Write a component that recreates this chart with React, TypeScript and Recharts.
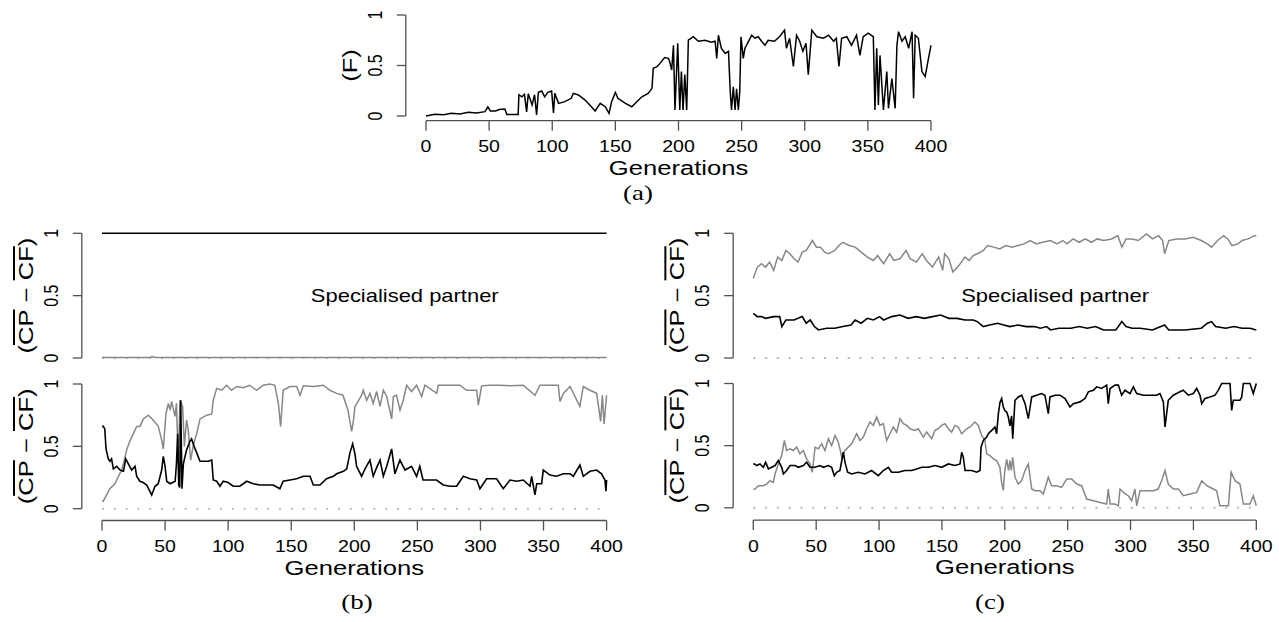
import React from 'react';
import { LineChart, Line, XAxis, YAxis, ReferenceLine, ReferenceDot } from 'recharts';

const W = 1279;
const H = 622;
const SANS = '"Liberation Sans", Arial, Helvetica, sans-serif';
const SERIF = '"Liberation Serif", "DejaVu Serif", serif';
const TICK_STRETCH = 1.22;
const LABEL_STRETCH = 1.28;
const AXIS_COLOR = '#505050';
const BLACK = '#000000';
const GRAY = '#878787';
const DOT_GRAY = '#b8b8b8';

const genTicks = [0, 50, 100, 150, 200, 250, 300, 350, 400];
const propTicks = [0, 0.5, 1];
const zeroGen = [0, 400];
const zeroVal = [0, 0];

// (a) F
const aGen = [0,7,14,20,27,33.5,40,46.7,49,51,55,58,62.5,64,73,73.6,76,78,79.7,81,84,86,87.6,89,91.7,94,96.5,99.5,101,102,105,110,115,116.7,120.7,126,131,134,138,142,145,147,150,152,158,163,167,171,176,179,180,183,185.3,189,192,193,194.6,196,197.2,199.4,201,202.3,203.6,205,206.5,207.8,211.7,215.7,221,226,229,230.3,231.6,234,237,239.6,241,242,243.4,244.8,246,247.4,248.5,249.5,251.3,252.6,258,260.6,263.2,265.8,268.5,271,276,280,284,285.5,288,291,293.5,296,298.5,301,302.8,305.6,309.6,314.9,318.9,322.9,325,327.1,329.2,333.3,337,341,343.7,346.3,350.3,354.3,355.6,357,358.3,359.6,362.3,365,366.3,369,371.6,373,374.3,377,379.6,382.3,385,386.2,387.5,390,392.8,395.4,398,400];
const aF = [0,0.017,0.012,0.026,0.02,0.036,0.03,0.043,0.09,0.05,0.05,0.065,0.07,0.016,0.016,0.21,0.19,0.215,0.04,0.22,0.11,0.21,0.01,0.234,0.248,0.19,0.234,0.248,0.03,0.224,0.125,0.142,0.175,0.224,0.208,0.158,0.092,0.05,0.125,0.092,0.026,0.142,0.234,0.175,0.125,0.092,0.142,0.19,0.224,0.274,0.472,0.488,0.521,0.578,0.571,0.54,0.455,0.70,0.06,0.72,0.06,0.44,0.06,0.41,0.06,0.75,0.785,0.74,0.75,0.73,0.74,0.57,0.80,0.67,0.62,0.64,0.24,0.06,0.29,0.06,0.27,0.06,0.24,0.785,0.57,0.67,0.80,0.77,0.785,0.74,0.70,0.75,0.74,0.785,0.85,0.67,0.77,0.49,0.80,0.74,0.64,0.72,0.41,0.85,0.785,0.77,0.80,0.74,0.77,0.49,0.77,0.785,0.70,0.80,0.60,0.785,0.82,0.785,0.06,0.67,0.11,0.60,0.06,0.44,0.076,0.37,0.076,0.70,0.835,0.74,0.785,0.67,0.835,0.175,0.80,0.77,0.44,0.39,0.57,0.70];

// (b) upper
const bUBlackGen = [0, 400];
const bUBlackVal = [1, 1];
const bUGrayGen = [0, 38, 40, 42, 400];
const bUGrayVal = [0.004, 0.004, 0.012, 0.004, 0.004];

// (b) lower
const bLBlackGen = [0,1,2.2,3.2,5,6.3,7.6,9,11.6,14.3,17,18.8,20.9,23.5,26.2,27.5,30,32.7,35.4,39.4,42,44.6,47.3,48.6,50,51.3,54,58,59,60,60.8,61.6,62.4,63.4,64.5,67,69.7,71,73,75,77.7,80.3,84.3,87,88.2,90.9,93.5,96.1,100,104,109.3,114.7,120,125,130.5,135.8,141,143.6,149,154.3,159.6,164.9,167.5,172.8,178,183.4,186,191.4,194,196.6,198.7,200.5,201.8,205.8,208.5,212.4,215,217.7,220.4,223,225.7,229.6,232.2,236.2,240.2,245.4,249.4,251.9,254.5,259.9,265.2,270.5,275.8,281.1,286.4,291.7,297,299.6,304.9,312.8,318.1,323.4,328.7,334,339.3,340.6,343.2,344.6,348.5,349.8,355.1,360.4,365.7,371,373.6,378.9,381.5,386.8,392.1,396,398.7,399.5,400];
const bLBlackVal = [0.66,0.66,0.64,0.48,0.40,0.38,0.40,0.32,0.34,0.31,0.30,0.40,0.36,0.31,0.34,0.26,0.22,0.21,0.19,0.11,0.18,0.20,0.31,0.42,0.34,0.22,0.20,0.22,0.36,0.60,0.19,0.17,0.87,0.16,0.36,0.47,0.54,0.56,0.50,0.45,0.38,0.38,0.38,0.39,0.23,0.22,0.18,0.22,0.21,0.18,0.18,0.22,0.20,0.19,0.19,0.19,0.16,0.22,0.23,0.24,0.26,0.26,0.19,0.19,0.24,0.26,0.28,0.30,0.32,0.45,0.52,0.44,0.34,0.26,0.32,0.39,0.26,0.33,0.39,0.26,0.34,0.48,0.28,0.39,0.31,0.34,0.26,0.34,0.23,0.23,0.23,0.19,0.18,0.18,0.26,0.24,0.23,0.16,0.24,0.24,0.16,0.23,0.22,0.23,0.18,0.26,0.11,0.20,0.20,0.31,0.27,0.26,0.28,0.28,0.26,0.35,0.26,0.30,0.31,0.28,0.23,0.14,0.23];
const bLGrayGen = [0,1,3.7,6.3,10.3,13,15.6,17,19.5,22,24.8,27.5,30.1,32.8,36.7,40.7,44.6,47.3,48.6,50.7,52.6,54,55.2,57.9,59,60.5,61.8,63.9,65.3,67,68.3,70.3,72.4,75,77.7,83,87,88.2,90.9,94.9,98.8,102.7,106.7,112,117,122.5,127.9,133,137,139.8,141.6,143.6,149,154.3,157,159.6,167.5,175.4,180.7,186,191,195,197.9,199.5,200.5,203,205.8,207.1,209.8,212.4,215,217.7,220.4,223,225.7,229.6,231,233.5,236.2,238.8,241.5,245.4,249.4,253.4,256,265.3,266.6,275.8,283.7,289,297,298.3,300.9,307.5,315.5,323.4,334,343.2,347.2,355.1,361.7,363,365.7,371,378.8,381.5,386.8,392.1,395.3,396.6,398,400];
const bLGrayVal = [0.06,0.06,0.11,0.16,0.20,0.26,0.31,0.36,0.47,0.54,0.60,0.66,0.66,0.72,0.75,0.71,0.66,0.55,0.48,0.76,0.845,0.79,0.86,0.74,0.845,0.36,0.87,0.82,0.50,0.71,0.64,0.39,0.51,0.60,0.72,0.75,0.76,0.87,0.965,0.95,0.99,0.95,0.98,0.97,0.99,0.95,0.99,1.0,0.99,0.845,0.66,0.95,0.98,0.98,0.91,0.985,0.98,0.99,0.95,0.925,0.91,0.79,0.62,0.72,0.82,0.86,0.91,0.95,0.87,0.925,0.845,0.94,0.82,0.95,0.90,0.72,0.90,0.91,0.79,0.87,0.99,0.94,0.99,0.90,0.99,0.925,0.99,0.99,0.99,0.95,0.95,0.83,0.985,0.99,0.99,0.985,0.99,0.91,0.99,0.99,0.99,0.86,0.925,0.98,0.82,0.98,0.95,0.925,0.70,0.91,0.68,0.91];

// (c) upper
const cUGrayGen = [0,3.2,6.5,9.7,13,16.2,19.4,22.7,25.9,29.1,32.4,35.6,38.9,42.1,47,50.2,53.4,56.7,59.9,64.8,68,71.3,76.1,81,85.8,90.7,95.5,98.8,103.6,108.5,111.7,116.6,121.5,124.7,129.6,134.4,137.7,142.5,147.4,150.6,152.2,155.5,158.7,163.6,168.4,171.7,174.9,178.1,183,186.2,191.1,195.9,200.8,205.7,210.5,215.4,220.2,225.1,230,236.4,241.3,246.2,249.4,254.3,259.1,264,268.8,273.7,278.5,285,289.9,293.1,296.4,301.2,306.1,312.6,317.4,322.3,325.5,327.1,330.4,336.8,343.3,349.8,356.3,361.1,364.4,369.2,374.1,377.3,380.6,385.4,388.7,393.5,398.4,400];
const cUGrayVal = [0.637,0.729,0.756,0.729,0.769,0.703,0.809,0.782,0.862,0.836,0.796,0.769,0.849,0.862,0.942,0.889,0.889,0.849,0.836,0.862,0.902,0.928,0.902,0.889,0.849,0.809,0.782,0.822,0.756,0.836,0.782,0.796,0.862,0.796,0.769,0.836,0.782,0.729,0.809,0.703,0.836,0.796,0.690,0.743,0.809,0.782,0.822,0.836,0.862,0.902,0.889,0.875,0.902,0.889,0.902,0.915,0.942,0.915,0.928,0.942,0.915,0.942,0.915,0.955,0.928,0.955,0.928,0.955,0.942,0.955,0.981,0.889,0.955,0.955,0.942,0.995,0.955,0.981,0.942,0.836,0.942,0.955,0.955,0.968,0.942,0.915,0.889,0.942,0.981,0.955,0.902,0.915,0.942,0.955,0.981,0.981];
const cUBlackGen = [0,3.2,6.5,9.7,16.2,21,22.7,25.9,32.4,38.9,42.1,45.3,48.6,51.8,58.3,64.8,71.3,77.7,81,85.8,90.7,95.5,100.4,103.6,110.1,116.6,123.1,129.6,136,142.5,149,155.5,161.9,168.4,174.9,178.1,183,187.9,194.3,199.2,204,210.5,217,223.5,228.3,233.2,236.4,242.9,252.6,259.1,265.6,272.1,275.3,278.5,288.3,293.1,296.4,301.2,307.7,317.4,327.1,330.4,343.3,356.3,361.1,364.4,367.6,375.7,382.2,388.7,395.1,400];
const cUBlackVal = [0.358,0.332,0.332,0.318,0.332,0.332,0.252,0.305,0.305,0.332,0.279,0.305,0.252,0.225,0.239,0.239,0.252,0.265,0.305,0.279,0.318,0.305,0.332,0.305,0.332,0.345,0.318,0.332,0.318,0.332,0.345,0.318,0.318,0.305,0.305,0.292,0.252,0.265,0.279,0.265,0.252,0.265,0.252,0.252,0.239,0.252,0.225,0.239,0.239,0.252,0.239,0.252,0.239,0.225,0.225,0.292,0.252,0.239,0.239,0.225,0.265,0.225,0.225,0.239,0.279,0.292,0.252,0.239,0.252,0.239,0.239,0.225];

// (c) lower
const cLBlackGen = [0,0.8,2.7,5.3,8,9.8,12,14.6,17.3,19.9,22.6,23.9,26.5,29.2,33.2,35.8,39.8,42.4,45.1,49.1,53,55.7,59.7,62.3,64.4,66.3,68.9,71.6,72.9,75,78.2,83.5,88.8,94.1,99.4,103.4,107.4,110,115.3,120.6,125.9,129.9,133.9,139.2,144.5,149.8,155.1,160.4,164.4,165.7,167,168.4,173.7,177.6,180.3,181.1,182.9,185.6,186.9,189.6,192.2,193.5,194.9,196.2,197.5,198.8,200.2,201.5,202.8,204.1,205.4,206.3,208.1,210.8,213.4,216.1,218.7,221.4,225.3,229.3,231.9,234.6,235.9,239.9,243.9,247.9,251.8,254.5,259.8,263.8,266.4,270.4,273.1,277,281,282.3,283.7,287.6,290.3,292.9,295.6,299.6,302.2,304.9,310.2,315.5,320.8,323.4,326.1,327.4,328.7,330,334,339.3,341.9,345.9,349.9,352.6,355.2,356.6,359.2,363.2,367.2,369.8,372.5,379.1,380.4,381.7,387,388.4,389.7,395,397.6,400];
const cLBlackVal = [0.35,0.353,0.34,0.353,0.326,0.367,0.313,0.326,0.34,0.38,0.326,0.272,0.30,0.34,0.34,0.326,0.34,0.367,0.326,0.326,0.34,0.326,0.34,0.326,0.259,0.286,0.30,0.447,0.367,0.286,0.272,0.286,0.272,0.30,0.259,0.30,0.326,0.286,0.286,0.30,0.30,0.313,0.326,0.326,0.34,0.326,0.353,0.34,0.353,0.447,0.407,0.30,0.30,0.286,0.30,0.488,0.542,0.569,0.596,0.623,0.65,0.596,0.757,0.85,0.88,0.81,0.78,0.77,0.73,0.66,0.74,0.555,0.865,0.892,0.906,0.838,0.717,0.892,0.906,0.919,0.906,0.757,0.892,0.906,0.906,0.879,0.811,0.838,0.852,0.879,0.933,0.946,0.973,0.96,0.987,0.838,0.96,0.987,0.987,0.906,0.946,0.919,0.973,0.919,0.906,0.906,0.906,0.919,0.852,0.65,0.757,0.865,0.906,0.933,0.946,0.906,0.919,0.96,0.906,0.838,0.879,0.892,0.906,0.946,1.0,1.0,0.784,0.865,0.865,0.892,1.0,1.0,0.919,1.0];
const cLGrayGen = [0,1.4,4,8,10.6,13.3,15.9,17.3,19.9,22.6,24.7,26.5,29.2,31.8,34.5,37.1,39.8,42.4,45.1,46.9,49.1,51.7,54.4,57,59.7,62.3,65,67.6,68.9,70.3,72.9,75.6,78.2,82.2,84.8,87.5,90.1,92.8,95.4,98.1,100.7,103.4,106,108.7,111.3,114,116.7,119.3,122,124.6,128.6,131.2,135.2,137.9,141.8,144.5,147.1,149.8,152.4,155.1,157.7,160.4,163,165.7,169.7,172.3,176.3,178.9,181.6,184.2,185.6,188.2,190.9,193.5,196.1,197.5,198.8,200,201.5,203,204.1,205.2,206.3,208.1,210.8,213.4,216.1,218.7,221.4,224,228,230.6,234.6,237.3,241.2,245.2,249.2,253.2,257.2,261.1,265.1,270.4,275.7,281,282.3,283.7,287.6,290.3,291.6,294.3,298.2,300.9,303.5,304.9,307.5,312.8,318.1,322,324.7,327.4,330,334,338,342,347.3,352.6,356.6,360.6,365.8,368.5,371.1,377.8,380,383.1,387,389.7,395,397.6,400];
const cLGrayVal = [0.15,0.151,0.178,0.178,0.191,0.218,0.205,0.272,0.353,0.42,0.542,0.461,0.474,0.461,0.488,0.434,0.461,0.394,0.353,0.286,0.488,0.474,0.515,0.461,0.555,0.501,0.582,0.528,0.474,0.407,0.461,0.488,0.515,0.596,0.542,0.569,0.636,0.69,0.663,0.73,0.663,0.677,0.542,0.596,0.65,0.609,0.717,0.677,0.663,0.636,0.623,0.636,0.569,0.609,0.555,0.623,0.636,0.663,0.677,0.636,0.609,0.663,0.65,0.596,0.636,0.65,0.69,0.663,0.582,0.542,0.434,0.42,0.394,0.38,0.326,0.20,0.14,0.30,0.39,0.30,0.38,0.30,0.407,0.245,0.191,0.218,0.30,0.353,0.151,0.137,0.137,0.111,0.245,0.178,0.178,0.164,0.232,0.232,0.191,0.178,0.07,0.057,0.043,0.03,0.151,0.03,0.03,0.016,0.151,0.124,0.097,0.057,0.151,0.016,0.137,0.137,0.137,0.151,0.218,0.30,0.191,0.151,0.151,0.097,0.111,0.124,0.218,0.178,0.151,0.137,0.016,0.016,0.286,0.218,0.191,0.03,0.03,0.097,0.016];

function pts(gens: number[], vals: number[], key: string) {
  const n = Math.min(gens.length, vals.length);
  const out: Record<string, number>[] = [];
  for (let i = 0; i < n; i++) out.push({ g: gens[i], [key]: vals[i] });
  return out;
}

type Series = { data: Record<string, number>[]; key: string; color: string; width: number; dash?: string };

function XTick(props: any) {
  const { x, y, payload } = props;
  return (
    <text transform={`translate(${x} ${y}) scale(${TICK_STRETCH} 1)`} textAnchor="middle" dy="0.36em"
      fontSize={16} fontFamily={SANS} fill="#000">{payload.value}</text>
  );
}

function YTick(props: any) {
  const { x, y, payload } = props;
  return (
    <text transform={`translate(${x} ${y}) scale(${TICK_STRETCH} 1) rotate(-90)`} textAnchor="middle" dy="0.36em"
      fontSize={16} fontFamily={SANS} fill="#000">{payload.value}</text>
  );
}

const ov = (s: string) => <tspan style={{ textDecoration: 'overline' }}>{s}</tspan>;

type PanelProps = {
  x0: number; x400: number; y1: number; y0: number; yMin: number; yMax: number;
  series: Series[]; showX: boolean; ylab: 'F' | 'CP'; note?: boolean;
};

const AX_W = 1; // axis box thickness (Recharts skips axes of zero size)

function Panel(p: PanelProps) {
  const pxG = (p.x400 - p.x0) / 400;
  const left = p.x0 - 16 * pxG;
  const right = p.x400 + 16 * pxG;
  const pxV = p.y0 - p.y1;
  const top = p.y1 - (p.yMax - 1) * pxV;
  const bottom = p.y0 - p.yMin * pxV;
  const frac = (p.yMax - 0.5) / (p.yMax - p.yMin);
  const xH = p.showX ? AX_W : 0;

  const xLabel = (lp: any) => {
    const vb = lp.viewBox || {};
    const cx = vb.x + vb.width / 2;
    const cy = vb.y + 47;
    return (
      <text transform={`translate(${cx} ${cy}) scale(${LABEL_STRETCH} 1)`} textAnchor="middle" dy="0.36em"
        fontSize={20} fontFamily={SANS} fill="#000">Generations</text>
    );
  };
  const yLabel = (lp: any) => {
    const vb = lp.viewBox || {};
    const cx = vb.x + (vb.width || 0) - 56;
    const cy = vb.y + vb.height * frac;
    return (
      <text transform={`translate(${cx} ${cy}) rotate(-90) scale(${LABEL_STRETCH} 1)`} textAnchor="middle" dy="0.36em"
        fontSize={20} fontFamily={SANS} fill="#000">
        {p.ylab === 'F' ? '(F)' : <>({ov('CP')} − {ov('CF')})</>}
      </text>
    );
  };
  const noteLabel = (lp: any) => {
    const vb = lp.viewBox || {};
    const cx = vb.x + (vb.width || 0) / 2;
    const cy = vb.y + (vb.height || 0) / 2;
    return (
      <text transform={`translate(${cx} ${cy}) scale(${TICK_STRETCH} 1)`} textAnchor="middle" dy="0.36em"
        fontSize={18} fontFamily={SANS} fill="#000">Specialised partner</text>
    );
  };

  return (
    <div style={{ position: 'absolute', left: 0, top: 0 }}>
      <LineChart width={W} height={H}
        margin={{ left: left - AX_W, top, right: W - right, bottom: H - bottom - xH }}>
        <XAxis type="number" dataKey="g" domain={[-16, 416]} ticks={genTicks} interval={0}
          hide={!p.showX} height={xH} axisLine={false}
          tickLine={{ stroke: AXIS_COLOR, strokeWidth: 1.3 }} tickSize={10} tickMargin={16}
          tick={XTick} label={p.showX ? xLabel : undefined} />
        <YAxis type="number" domain={[p.yMin, p.yMax]} ticks={propTicks} interval={0} width={AX_W}
          axisLine={false} tickLine={{ stroke: AXIS_COLOR, strokeWidth: 1.3 }} tickSize={9} tickMargin={22}
          tick={YTick} label={yLabel} />
        <ReferenceLine segment={[{ x: -16, y: 0 }, { x: -16, y: 1 }]} stroke={AXIS_COLOR} strokeWidth={1.3} ifOverflow="visible" />
        {p.showX && (
          <ReferenceLine segment={[{ x: 0, y: p.yMin }, { x: 400, y: p.yMin }]} stroke={AXIS_COLOR} strokeWidth={1.3} ifOverflow="visible" />
        )}
        {p.series.map((s) => (
          <Line key={s.key} data={s.data} dataKey={s.key} type="linear" stroke={s.color} strokeWidth={s.width}
            strokeDasharray={s.dash} dot={false} activeDot={false} isAnimationActive={false} />
        ))}
        {p.note && (
          <ReferenceDot x={240} y={0.5} r={1} fill="none" stroke="none" label={noteLabel} ifOverflow="visible" />
        )}
      </LineChart>
    </div>
  );
}

const zeroDots = (key: string): Series => ({ data: pts(zeroGen, zeroVal, key), key, color: DOT_GRAY, width: 2, dash: '2 9.8' });

const captionStyle = (cx: number, cy: number): React.CSSProperties => ({
  position: 'absolute', left: cx, top: cy, transform: 'translate(-50%, -50%) scaleX(1.28)',
  fontFamily: SERIF, fontSize: 21, lineHeight: '22px', color: '#000', whiteSpace: 'nowrap',
});

export default function App() {
  return (
    <div style={{ position: 'absolute', left: 0, top: 0, width: W, height: H, background: '#fff', overflow: 'hidden' }}>
      <Panel x0={426} x400={931} y1={15} y0={116} yMin={-0.0465} yMax={1.04} showX ylab="F"
        series={[{ data: pts(aGen, aF, 'f'), key: 'f', color: BLACK, width: 1.5 }]} />
      <Panel x0={102} x400={606.6} y1={233.3} y0={358} yMin={-0.04} yMax={1.04} showX={false} ylab="CP" note
        series={[
          zeroDots('bUz'),
          { data: pts(bUGrayGen, bUGrayVal, 'bUg'), key: 'bUg', color: GRAY, width: 1.5 },
          { data: pts(bUBlackGen, bUBlackVal, 'bUk'), key: 'bUk', color: BLACK, width: 1.4 },
        ]} />
      <Panel x0={102} x400={606.6} y1={384} y0={508.7} yMin={-0.0946} yMax={1.04} showX ylab="CP"
        series={[
          zeroDots('bLz'),
          { data: pts(bLGrayGen, bLGrayVal, 'bLg'), key: 'bLg', color: GRAY, width: 1.5 },
          { data: pts(bLBlackGen, bLBlackVal, 'bLk'), key: 'bLk', color: BLACK, width: 1.6 },
        ]} />
      <Panel x0={753.3} x400={1256.3} y1={233.3} y0={358} yMin={-0.04} yMax={1.04} showX={false} ylab="CP" note
        series={[
          zeroDots('cUz'),
          { data: pts(cUGrayGen, cUGrayVal, 'cUg'), key: 'cUg', color: GRAY, width: 1.5 },
          { data: pts(cUBlackGen, cUBlackVal, 'cUk'), key: 'cUk', color: BLACK, width: 1.6 },
        ]} />
      <Panel x0={753.3} x400={1256.3} y1={383.5} y0={507.8} yMin={-0.099} yMax={1.04} showX ylab="CP"
        series={[
          zeroDots('cLz'),
          { data: pts(cLGrayGen, cLGrayVal, 'cLg'), key: 'cLg', color: GRAY, width: 1.5 },
          { data: pts(cLBlackGen, cLBlackVal, 'cLk'), key: 'cLk', color: BLACK, width: 1.6 },
        ]} />
      <div style={captionStyle(638, 193)}>(a)</div>
      <div style={captionStyle(357, 602)}>(b)</div>
      <div style={captionStyle(990, 602)}>(c)</div>
    </div>
  );
}
